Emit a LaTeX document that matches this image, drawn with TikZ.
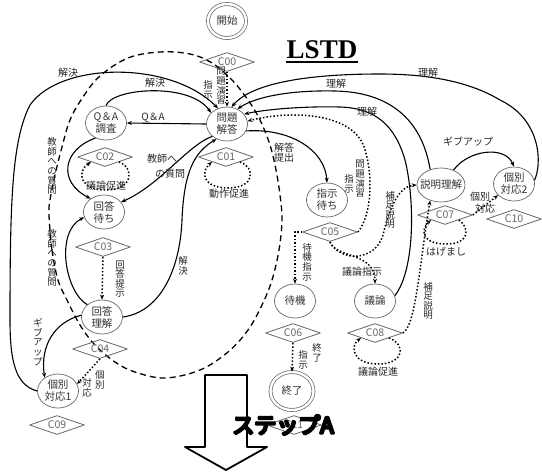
\documentclass[tikz,border=0pt]{standalone}
\usepackage{fontspec}
\setmainfont{Noto Sans CJK JP}[AutoFakeBold=3]
\newfontfamily\lstdfont{Liberation Serif}
\newfontfamily\stepfont{Noto Sans CJK JP}[FakeBold=12]
\usetikzlibrary{shapes.geometric,arrows.meta,positioning}
\definecolor{shp}{gray}{0.4}
\begin{document}
\begin{tikzpicture}[x=1pt,y=-1pt,>={Stealth[length=5pt,width=4pt]},line join=round,line width=1.1pt]
\tikzset{st/.style={ellipse,draw=shp,line width=0.7pt,minimum width=41pt,minimum height=34pt,inner sep=0pt,align=center,text=black!80,font=\fontsize{10.5}{12}\selectfont},
	term/.style={st,double=white,double distance=2.4pt},
	cond/.style={diamond,aspect=2.9,draw=shp,line width=0.8pt,minimum width=55pt,minimum height=19pt,inner sep=0pt,text=shp,font=\fontsize{10.5}{10}\selectfont},
	lbl/.style={inner sep=0pt,text=black!85,font=\fontsize{10}{10}\selectfont},
	vl/.style={lbl,align=center,font=\fontsize{9.5}{9.6}\selectfont},
	dot/.style={->,dotted,line width=1.5pt},
	loopline/.style={dash pattern=on 6pt off 4pt,line width=1.3pt}}
\useasboundingbox (0,0) rectangle (542,472);
% dashed loop
\draw[loopline] plot[smooth cycle,tension=0.6] coordinates{(49,215) (52,250) (58,280) (67,300) (80,325) (95,345) (115,362) (135,372) (165,378) (200,370) (228,352) (248,330) (262,305) (272,280) (279,250) (282,220) (280,195) (276,170) (270,145) (260,120) (248,100) (232,80) (212,63) (190,54) (160,52) (128,58) (100,76) (83,97) (70,120) (62,147) (55,175) (50,200)};
% states
\node[term,minimum width=38pt,minimum height=34pt] (start) at (227,21) {開始};
\node[cond] (c00) at (227,62) {C00};
\node[st] (mon) at (227,124) {問題\\解答};
\node[cond] (c01) at (226,157) {C01};
\node[st] (qa) at (106,123) {Q＆A\\調査};
\node[cond] (c02) at (105,157) {C02};
\node[st] (wait) at (104,212) {回答\\待ち};
\node[cond] (c03) at (103,247) {C03};
\node[st] (und) at (102,317) {回答\\理解};
\node[cond] (c04) at (100,349) {C04};
\node[st] (ind1) at (58,391) {個別\\対応1};
\node[cond] (c09) at (57,425) {C09};
\node[st] (shj) at (327,200) {指示\\待ち};
\node[cond] (c05) at (330,232) {C05};
\node[st] (taiki) at (295,301) {待機};
\node[cond] (c06) at (293,333) {C06};
\node[term,minimum width=43pt,minimum height=38pt] (fin) at (292,391) {終了};
\node[cond] (c11) at (294,425) {C11};
\node[st] (giron) at (375,301) {議論};
\node[cond] (c08) at (375,333) {C08};
\node[st,minimum width=48pt,inner xsep=-6pt] (setsu) at (441,185) {説明理解};
\node[cond] (c07) at (445,215) {C07};
\node[st] (ind2) at (514,184) {個別\\対応2};
\node[cond] (c10) at (514,219) {C10};
% left half
\draw[dot] (c00.south) -- (mon.north);
\draw[->] (mon.west) -- (qa.east);
\draw[->] (qa.north) .. controls (112,88) and (190,82) .. (mon.145);
\draw[->] (ind1.west) .. controls (15,385) and (10,360) .. (10,320) .. controls (10,200) and (12,140) .. (30,105) .. controls (60,62) and (170,60) .. (mon.120);
\draw[->] (mon.220) .. controls (188,145) and (160,185) .. (wait.30);
\draw[->] (und.east) .. controls (160,312) and (180,270) .. (182,220) .. controls (184,170) and (195,152) .. (mon.235);
\draw[->] (qa.235) .. controls (62,150) and (58,182) .. (wait.135);
\draw[->] (und.140) .. controls (65,292) and (55,232) .. (wait.195);
\draw[dot] (c03.south) -- (und.north);
\draw[->] (und.175) .. controls (55,322) and (40,345) .. (ind1.135);
\draw[dot] (c04.south) -- (ind1.20);
\draw[dot] (c02.south east) .. controls (135,168) and (133,190) .. (106,190) .. controls (80,190) and (76,172) .. (c02.south west);
\draw[dot] (c01.south east) .. controls (256,168) and (255,188) .. (228,188) .. controls (203,188) and (200,172) .. (c01.south west);
% right half
\draw[->] (mon.-20) .. controls (290,128) and (325,150) .. (shj.north);
\draw[dot] (c05.west) -| (taiki.north);
\draw[dot] (c05.south) .. controls (335,258) and (375,252) .. (giron.north);
\draw[dot] (c05.south) .. controls (340,262) and (375,262) .. (383,235) .. controls (390,205) and (400,186) .. (setsu.west);
\draw[dot] (c05.east) .. controls (372,215) and (373,175) .. (365,150) .. controls (355,112) and (290,110) .. (mon.8);
\draw[dot] (c06.south) -- (fin.north);
\draw[->] (setsu.125) .. controls (422,120) and (390,92) .. (335,91) .. controls (290,90) and (255,97) .. (mon.55);
\draw[->] (ind2.10) .. controls (542,165) and (542,120) .. (500,100) .. controls (470,82) and (430,74) .. (380,74) .. controls (300,74) and (250,85) .. (mon.75);
\draw[->] (giron.15) .. controls (415,270) and (415,200) .. (405,160) .. controls (395,125) and (375,108) .. (340,107) .. controls (300,106) and (262,110) .. (mon.30);
\draw[->] (setsu.50) .. controls (468,150) and (505,145) .. (ind2.north);
\draw[dot] (c07.east) -- (ind2.215);
\draw[dot] (c08.east) .. controls (416,326) and (420,260) .. (setsu.235);
\draw[dot] (c08.south east) .. controls (406,344) and (405,364) .. (378,364) .. controls (352,364) and (350,346) .. (c08.south west);
\draw[dot] (c07.south east) .. controls (470,228) and (470,244) .. (446,244) .. controls (422,244) and (420,230) .. (c07.south west);
% labels
\node[lbl] (lkai1) at (68,73) {解決};
\node[lbl] (lkai2) at (155,83) {解決};
\node[lbl] (lqa) at (153,118) {Q＆A};
\node[vl] (lmon1) at (221,86) {問\\題\\演\\習};
\node[vl] (lsiji1) at (208,90) {指\\示};
\node[lbl] (lkyo1) at (162,159) {教師へ};
\node[lbl] (lkyo2) at (170,174) {の質問};
\node[vl] (lkyo3) at (52,166) {教\\師\\へ\\の\\質\\問};
\node[vl] (lkyo4) at (52,258) {教\\師\\へ\\の\\質\\問};
\node[lbl] (lgiron1) at (106,186) {議論促進};
\node[lbl] (ldosa) at (229,194) {動作促進};
\node[vl] (lkaito) at (120,279) {回\\答\\提\\示};
\node[vl] (lkai3) at (183,266) {解\\決};
\node[vl] (lgive1) at (38,342) {ギ\\ブ\\ア\\ッ\\プ};
\node[vl] (lkobe1) at (100,380) {個\\別};
\node[vl] (ltaio1) at (87,388) {対\\応};
\node[lbl,align=left] (lteis) at (284,153) {解答\\提出};
\node[lbl] (lri1) at (428,73) {理解};
\node[lbl] (lri2) at (336,84) {理解};
\node[lbl] (lri3) at (367,112) {理解};
\node[vl] (lmon2) at (360,179) {問\\題\\演\\習};
\node[vl] (lsiji2) at (349,184) {指\\示};
\node[vl] (lhos1) at (390,210) {補\\足\\説\\明};
\node[vl] (ltaiki) at (307,262) {待\\機\\指\\示};
\node[lbl] (lgiron2) at (362,272) {議論指示};
\node[lbl] (lgive2) at (468,142) {ギブアップ};
\node[lbl] (lkobe2) at (480,197) {個別};
\node[lbl] (ltaio2) at (485,209) {対応};
\node[lbl] (lhage) at (446,252) {はげまし};
\node[vl] (lhos2) at (428,301) {補\\足\\説\\明};
\node[vl] (lsyu) at (317,353) {終\\了};
\node[vl] (lsiji3) at (303,360) {指\\示};
\node[lbl] (lgiron3) at (378,372) {議論促進};
% title and step arrow
\node[inner sep=0pt,font=\lstdfont\bfseries\fontsize{27}{27}\selectfont] (lstd) at (322,50) {LSTD};
\draw[line width=2.5pt] ([yshift=-2.5pt]lstd.south west) -- ([yshift=-2.5pt]lstd.south east);
\draw[line width=1.8pt,fill=white] (205,375) -- (247,375) -- (247,447) -- (267,447) -- (226,470) -- (185,447) -- (205,447) -- cycle;
\node[inner sep=0pt,font=\stepfont\fontsize{22}{22}\selectfont] (stepA) at (283,425) {ステップA};
\end{tikzpicture}
\end{document}
